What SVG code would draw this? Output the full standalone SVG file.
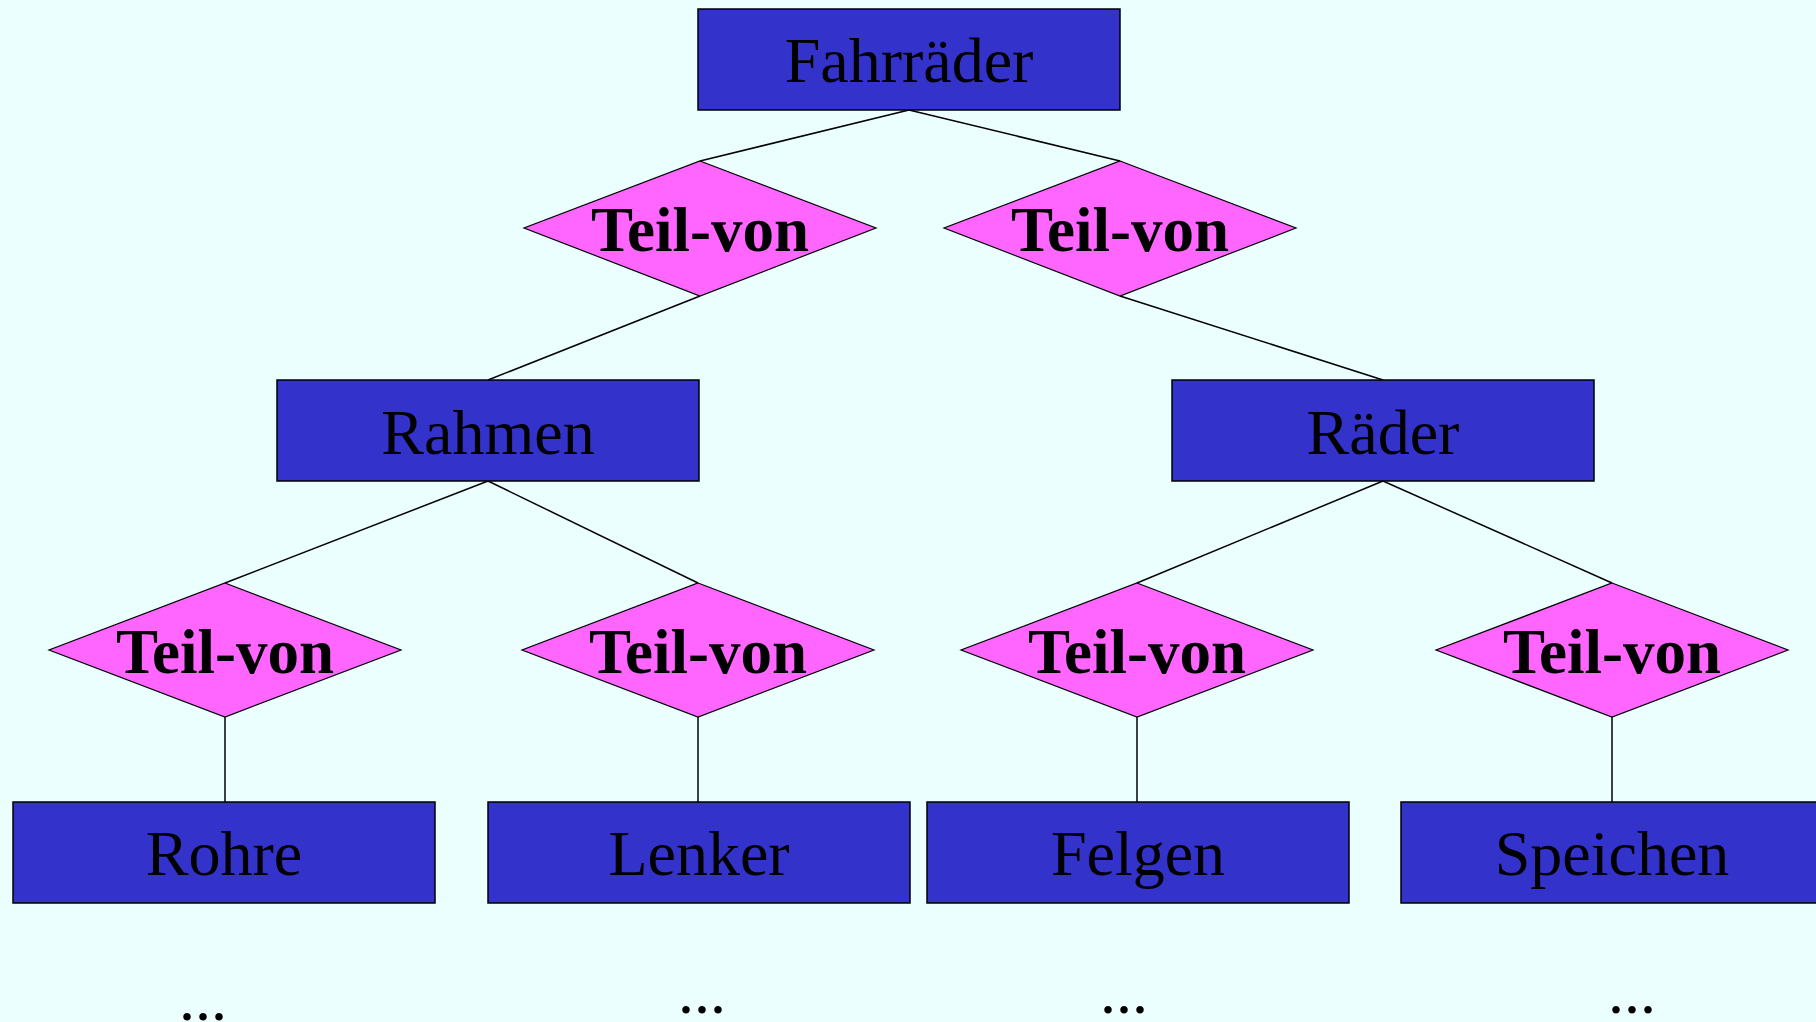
<svg xmlns="http://www.w3.org/2000/svg" width="1816" height="1022" viewBox="0 0 1816 1022">
<style>
.ent{fill:#3333CC;stroke:#000;stroke-width:1.5}
.rel{fill:#FF66FF;stroke:#000;stroke-width:1.2}
.et{font-family:"Liberation Serif","Times New Roman",serif;font-size:64px;fill:#000;text-anchor:middle}
.rt{font-family:"Liberation Serif","Times New Roman",serif;font-size:63px;font-weight:bold;fill:#000;text-anchor:middle}
.dots{font-family:"Liberation Serif","Times New Roman",serif;font-size:64px;fill:#000;text-anchor:middle}
.conn line{stroke:#000;stroke-width:1.5}
</style>
<rect width="1816" height="1022" fill="#EBFFFF"/>
<g id="connectors" class="conn">
<line x1="909" y1="110" x2="700" y2="161"/>
<line x1="909" y1="110" x2="1120" y2="161"/>
<line x1="700" y1="296" x2="488" y2="380"/>
<line x1="1120" y1="296" x2="1383" y2="380"/>
<line x1="488" y1="481" x2="225" y2="583"/>
<line x1="488" y1="481" x2="698" y2="583"/>
<line x1="1383" y1="481" x2="1137" y2="583"/>
<line x1="1383" y1="481" x2="1612" y2="583"/>
<line x1="225" y1="717" x2="225" y2="802"/>
<line x1="698" y1="717" x2="698" y2="802"/>
<line x1="1137" y1="717" x2="1137" y2="802"/>
<line x1="1612" y1="717" x2="1612" y2="802"/>
</g>
<g id="fahrraeder"><rect class="ent" x="698" y="9" width="422" height="101"/><text class="et" x="909" y="82">Fahrräder</text></g>
<g id="teilvon1"><polygon class="rel" points="700,161 876,228 700,296 524,228"/><text class="rt" x="700" y="251">Teil-von</text></g>
<g id="teilvon2"><polygon class="rel" points="1120,161 1296,228 1120,296 944,228"/><text class="rt" x="1120" y="251">Teil-von</text></g>
<g id="rahmen"><rect class="ent" x="277" y="380" width="422" height="101"/><text class="et" x="488" y="454">Rahmen</text></g>
<g id="raeder"><rect class="ent" x="1172" y="380" width="422" height="101"/><text class="et" x="1383" y="454">Räder</text></g>
<g id="teilvon3"><polygon class="rel" points="225,583 401,650 225,717 49,650"/><text class="rt" x="225" y="673">Teil-von</text></g>
<g id="teilvon4"><polygon class="rel" points="698,583 874,650 698,717 522,650"/><text class="rt" x="698" y="673">Teil-von</text></g>
<g id="teilvon5"><polygon class="rel" points="1137,583 1313,650 1137,717 961,650"/><text class="rt" x="1137" y="673">Teil-von</text></g>
<g id="teilvon6"><polygon class="rel" points="1612,583 1788,650 1612,717 1436,650"/><text class="rt" x="1612" y="673">Teil-von</text></g>
<g id="rohre"><rect class="ent" x="13" y="802" width="422" height="101"/><text class="et" x="224" y="875">Rohre</text></g>
<g id="lenker"><rect class="ent" x="488" y="802" width="422" height="101"/><text class="et" x="699" y="875">Lenker</text></g>
<g id="felgen"><rect class="ent" x="927" y="802" width="422" height="101"/><text class="et" x="1138" y="875">Felgen</text></g>
<g id="speichen"><rect class="ent" x="1401" y="802" width="422" height="101"/><text class="et" x="1612" y="875">Speichen</text></g>
<text class="dots" x="203" y="1020">...</text>
<text class="dots" x="702" y="1013">...</text>
<text class="dots" x="1124" y="1013">...</text>
<text class="dots" x="1632" y="1013">...</text>
</svg>
